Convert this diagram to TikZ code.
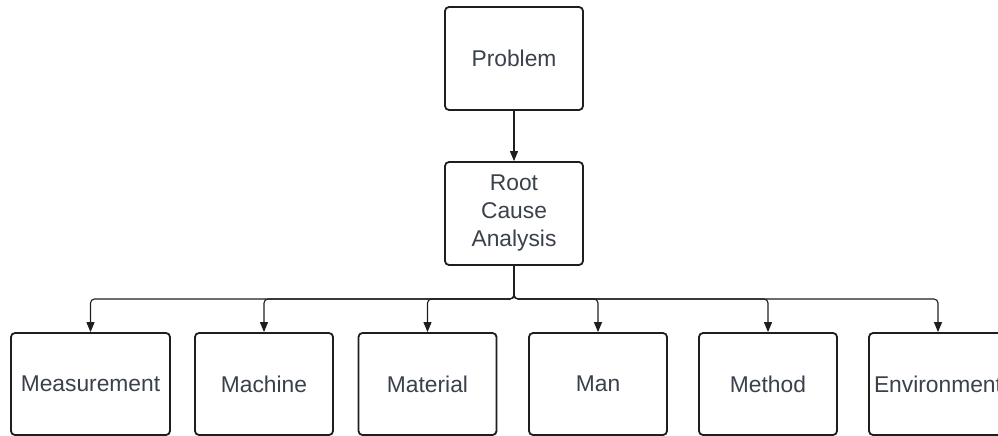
\documentclass[tikz,border=0pt]{standalone}
\usepackage{fontspec}
\setmainfont{Liberation Sans}
\usetikzlibrary{arrows.meta}
\definecolor{txt}{HTML}{3A414B}
\definecolor{edge}{HTML}{1E1E1E}
\tikzset{
  box/.style={draw=edge, line width=1.8pt, rounded corners=4pt, fill=white,
    minimum width=138pt, minimum height=102pt, inner sep=0pt,
    text=txt, font=\fontsize{22.8}{28}\selectfont, align=center},
  arr/.style={draw=edge, line width=1.1pt, -{Triangle[length=10pt,width=8pt]}},
}
\begin{document}
\begin{tikzpicture}[x=1pt,y=-1pt]
\useasboundingbox (0,0) rectangle (998,436);
\clip (0,0) rectangle (998,436);
\node[box, minimum height=103pt] (prob) at (514,58.5) {Problem};
\node[box, minimum height=103pt] (rca) at (514,213.5) {Root\\Cause\\Analysis};
\node[box, minimum width=159pt] (meas) at (90.5,384) {Measurement};
\node[box] (mach) at (264,384) {Machine};
\node[box] (mat) at (427.5,384) {Material};
\node[box] (man) at (598,384) {Man};
\node[box] (meth) at (768,384) {Method};
\node[box] (env) at (938,384) {Environment};
\coordinate (bus) at (514,299);
\draw[arr] (prob.south) -- (rca.north);
\foreach \t in {meas,mach,mat,man,meth,env}{
  \draw[arr, rounded corners=4pt] (rca.south) -- (bus) -| (\t.north);
}
\end{tikzpicture}
\end{document}
